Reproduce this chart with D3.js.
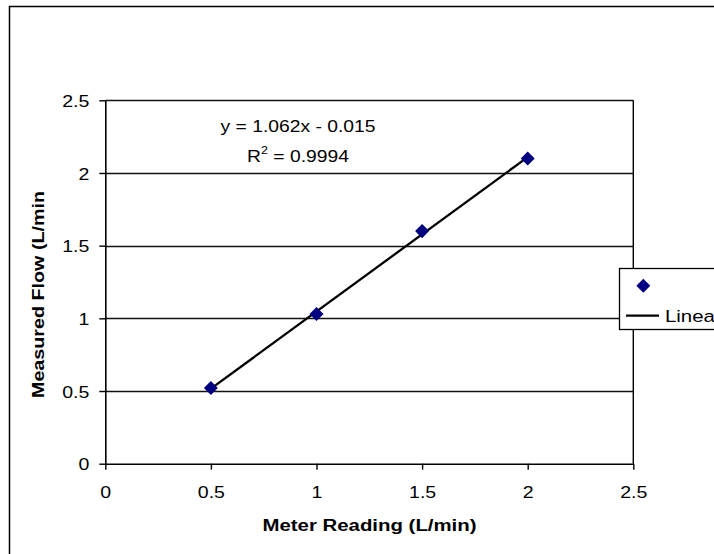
<!DOCTYPE html>
<html>
<head>
<meta charset="utf-8">
<script src="https://cdn.jsdelivr.net/npm/d3@7"></script>
<style>
  body { margin: 0; background: #fff; }
  svg { display: block; font-family: "Liberation Sans", Arial, sans-serif; }
</style>
</head>
<body>
<svg id="chart" width="714" height="554"></svg>
<script>
// ---- data ----
const meterReading = [0.5, 1.0, 1.5, 2.0];
const measuredFlow = [0.52, 1.03, 1.6, 2.1];
const xTicks = [0, 0.5, 1, 1.5, 2, 2.5];
const yTicks = [0, 0.5, 1, 1.5, 2, 2.5];
const xTitle = "Meter Reading (L/min)";
const yTitle = "Measured Flow (L/min";
const eqLine1 = "y = 1.062x - 0.015";
const eqLine2Prefix = "R";
const eqLine2Suffix = " = 0.9994";
const legendLabels = ["", "Linear (Series1)"];

const svg = d3.select("#chart");
const plot = { left: 105.3, right: 633.3, top: 100.3, bottom: 463.7 };

// outer chart border (extends past right/bottom edges)
svg.append("rect").attr("x", 9.5).attr("y", 6.5).attr("width", 760).attr("height", 600)
  .attr("fill", "#fff").attr("stroke", "#000").attr("stroke-width", 1.5);

const x = d3.scaleLinear().domain([0, 2.5]).range([plot.left, plot.right]);
const y = d3.scaleLinear().domain([0, 2.5]).range([plot.bottom, plot.top]);

// gridlines
svg.append("g").selectAll("line").data(yTicks.filter(d => d > 0)).join("line")
  .attr("x1", plot.left).attr("x2", plot.right)
  .attr("y1", d => Math.round(y(d)) + 0.5).attr("y2", d => Math.round(y(d)) + 0.5)
  .attr("stroke", "#111").attr("stroke-width", 1.4);

// right border of plot area
svg.append("line").attr("x1", plot.right).attr("x2", plot.right)
  .attr("y1", plot.top).attr("y2", plot.bottom)
  .attr("stroke", "#000").attr("stroke-width", 1.4);

const tickScale = 1.15;
// x axis
const gx = svg.append("g").attr("transform", `translate(0,${plot.bottom})`)
  .call(d3.axisBottom(x).tickValues(xTicks).tickSize(6).tickSizeOuter(0).tickFormat(d3.format("")));
gx.select(".domain").attr("stroke", "#000").attr("stroke-width", 1.6);
gx.selectAll(".tick line").attr("stroke", "#000").attr("stroke-width", 1.4);
gx.selectAll(".tick text").attr("y", 0).attr("dy", 0)
  .attr("transform", `translate(0,34) scale(${tickScale},1)`)
  .attr("font-size", 17).attr("fill", "#000").attr("font-family", "Liberation Sans, Arial, sans-serif");

// y axis
const gy = svg.append("g").attr("transform", `translate(${plot.left},0)`)
  .call(d3.axisLeft(y).tickValues(yTicks).tickSize(6).tickSizeOuter(0).tickFormat(d3.format("")));
gy.select(".domain").attr("stroke", "#000").attr("stroke-width", 1.6);
gy.selectAll(".tick line").attr("stroke", "#000").attr("stroke-width", 1.4);
gy.selectAll(".tick text").attr("x", 0).attr("dy", "0.36em")
  .attr("transform", `translate(-16,0) scale(${tickScale},1)`)
  .attr("font-size", 17).attr("fill", "#000").attr("font-family", "Liberation Sans, Arial, sans-serif");

// linear trendline (least squares fit of the series)
const n = meterReading.length;
const mx = d3.mean(meterReading), my = d3.mean(measuredFlow);
let sxy = 0, sxx = 0;
for (let i = 0; i < n; i++) {
  sxy += (meterReading[i] - mx) * (measuredFlow[i] - my);
  sxx += (meterReading[i] - mx) ** 2;
}
const slope = sxy / sxx, intercept = my - slope * mx;
const xExt = d3.extent(meterReading);
svg.append("line")
  .attr("x1", x(xExt[0])).attr("y1", y(slope * xExt[0] + intercept))
  .attr("x2", x(xExt[1])).attr("y2", y(slope * xExt[1] + intercept))
  .attr("stroke", "#000").attr("stroke-width", 2.3);

// markers
const diamond = d3.symbol().type(d3.symbolDiamond2).size(125);
svg.append("g").selectAll("path").data(meterReading).join("path")
  .attr("d", diamond)
  .attr("transform", (d, i) => `translate(${x(d)},${y(measuredFlow[i])})`)
  .attr("fill", "#000080");

// equation text
const eqX = 298;
svg.append("text").attr("transform", `translate(${eqX},131.5) scale(1.135,1)`)
  .attr("text-anchor", "middle").attr("font-size", 17).attr("fill", "#000")
  .text(eqLine1);
const t2 = svg.append("text").attr("transform", `translate(${eqX},161.5) scale(1.135,1)`)
  .attr("text-anchor", "middle").attr("font-size", 17).attr("fill", "#000");
t2.append("tspan").text(eqLine2Prefix);
t2.append("tspan").attr("font-size", 11).attr("dy", -8).text("2");
t2.append("tspan").attr("dy", 8).text(eqLine2Suffix);

// axis titles
svg.append("text").attr("transform", `translate(369.5,530.5) scale(1.2,1)`)
  .attr("text-anchor", "middle").attr("font-size", 17).attr("font-weight", "bold").attr("fill", "#000")
  .text(xTitle);
svg.append("text").attr("transform", `translate(43.5,294.5) rotate(-90) scale(1.16,1)`)
  .attr("text-anchor", "middle").attr("font-size", 17).attr("font-weight", "bold").attr("fill", "#000")
  .text(yTitle);

// legend
const lg = svg.append("g");
lg.append("rect").attr("x", 619.5).attr("y", 268.5).attr("width", 200).attr("height", 61)
  .attr("fill", "#fff").attr("stroke", "#000").attr("stroke-width", 1.3);
lg.append("path").attr("d", diamond).attr("transform", "translate(643.3,285.7)").attr("fill", "#000080");
lg.append("text").attr("transform", "translate(665,291.5) scale(1.2,1)").attr("font-size", 17).text(legendLabels[0]);
lg.append("line").attr("x1", 626).attr("x2", 659).attr("y1", 315.7).attr("y2", 315.7)
  .attr("stroke", "#000").attr("stroke-width", 2.3);
lg.append("text").attr("transform", "translate(665,322) scale(1.2,1)").attr("font-size", 17).attr("fill", "#000")
  .text(legendLabels[1]);
</script>
</body>
</html>
